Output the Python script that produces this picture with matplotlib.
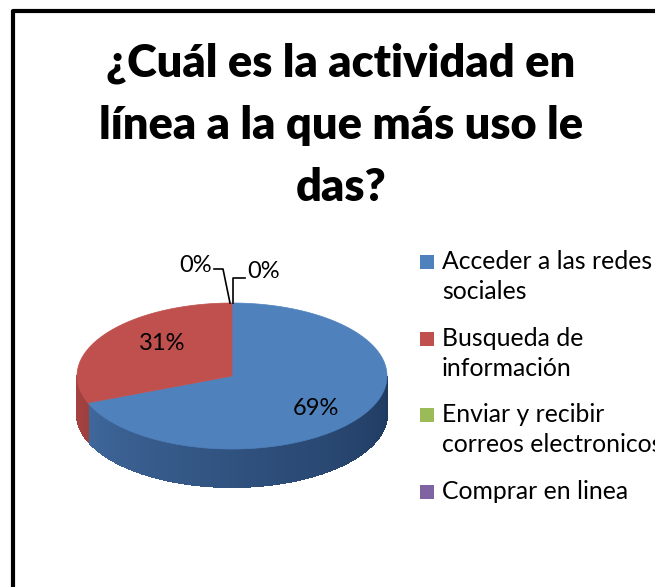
import numpy as np
import matplotlib.pyplot as plt
from matplotlib.patches import Polygon, Rectangle
from matplotlib.collections import PolyCollection
from matplotlib.colors import to_rgb

plt.rcParams['font.family'] = ['Lato', 'DejaVu Sans']

# datos
titulo = "¿Cuál es la actividad en\nlínea a la que más uso le\ndas?"
categorias = ["Acceder a las redes\nsociales", "Busqueda de\ninformación",
              "Enviar y recibir\ncorreos electronicos", "Comprar en linea"]
valores = [69, 31, 0, 0]
colores = ["#4F81BD", "#C0504D", "#9BBB59", "#8064A2"]
lados = [("#4873AA", "#1F3A60"), ("#A84442", "#7A2E2C"),
         ("#7E9A45", "#5C7232"), ("#67508A", "#4A3A66")]

fig = plt.figure(figsize=(6.55, 5.87), dpi=100)
ax = fig.add_axes([0, 0, 1, 1])
ax.set_xlim(0, 655)
ax.set_ylim(587, 0)
ax.axis('off')

# marco
ax.plot([13, 13, 700], [700, 11, 11], color='black', lw=3, solid_capstyle='projecting')

ax.text(341, 125, titulo, ha='center', va='center', fontsize=32.5, fontweight='heavy',
        linespacing=1.62)

# pastel 3d
cx, cy, a, b, prof = 232, 376, 155, 73, 38


def punto(t):
    r = np.radians(t)
    return cx + a * np.cos(r), cy - b * np.sin(r)


total = sum(valores)
cum = np.cumsum([0] + valores) / total * 360
inicios = 90 - cum[:-1]
fines = 90 - cum[1:]

# lados
quads, cols = [], []
for i in range(len(valores)):
    if valores[i] == 0:
        continue
    t1, t2 = fines[i], inicios[i]
    ts = np.arange(t1, t2, 1.0)
    ts = np.append(ts, t2)
    for k in range(len(ts) - 1):
        m = (ts[k] + ts[k + 1]) / 2 % 360
        if m < 180:
            continue
        x0, y0 = punto(ts[k])
        x1, y1 = punto(ts[k + 1])
        f = (m - 180) / 180
        c0, c1 = np.array(to_rgb(lados[i][0])), np.array(to_rgb(lados[i][1]))
        c = c0 + (c1 - c0) * min(1, f ** 0.8)
        quads.append([(x0, y0), (x1, y1), (x1, y1 + prof), (x0, y0 + prof)])
        cols.append(c)
ax.add_collection(PolyCollection(quads, facecolors=cols, edgecolors='face', lw=0.8,
                                 antialiased=False))

# tapa
for i in range(len(valores)):
    if valores[i] == 0:
        continue
    ts = np.linspace(inicios[i], fines[i], 200)
    pts = [(cx, cy)] + [punto(t) for t in ts]
    ax.add_patch(Polygon(pts, closed=True, fc=colores[i], ec=colores[i], lw=0.5))

# etiquetas
for i in range(len(valores)):
    if valores[i] == 0:
        continue
    m = (inicios[i] + fines[i]) / 2
    r = np.radians(m)
    x = cx + 7 + a * 0.6 * np.cos(r)
    y = cy - b * 0.8 * np.sin(r)
    ax.text(x, y, f"{valores[i]}%", ha='center', va='center', fontsize=17)

xt, yt = punto(90)
ax.plot([xt - 2, xt - 9, xt - 18], [yt, yt - 34, yt - 34], color='black', lw=1.2)
ax.plot([xt + 1, xt + 1, xt + 13], [yt, yt - 25, yt - 25], color='black', lw=1.2)
ax.text(xt - 20, yt - 38, "0%", ha='right', va='center', fontsize=17)
ax.text(xt + 15, yt - 31, "0%", ha='left', va='center', fontsize=17)

# leyenda
ys = [262, 339, 415, 492]
for i, cat in enumerate(categorias):
    ax.add_patch(Rectangle((420, ys[i] - 7), 14, 14, fc=colores[i], ec='none'))
    ax.text(442, ys[i] - 12, cat, ha='left', va='top', fontsize=17.8, linespacing=1.35)

fig.savefig("out.png", dpi=100)
